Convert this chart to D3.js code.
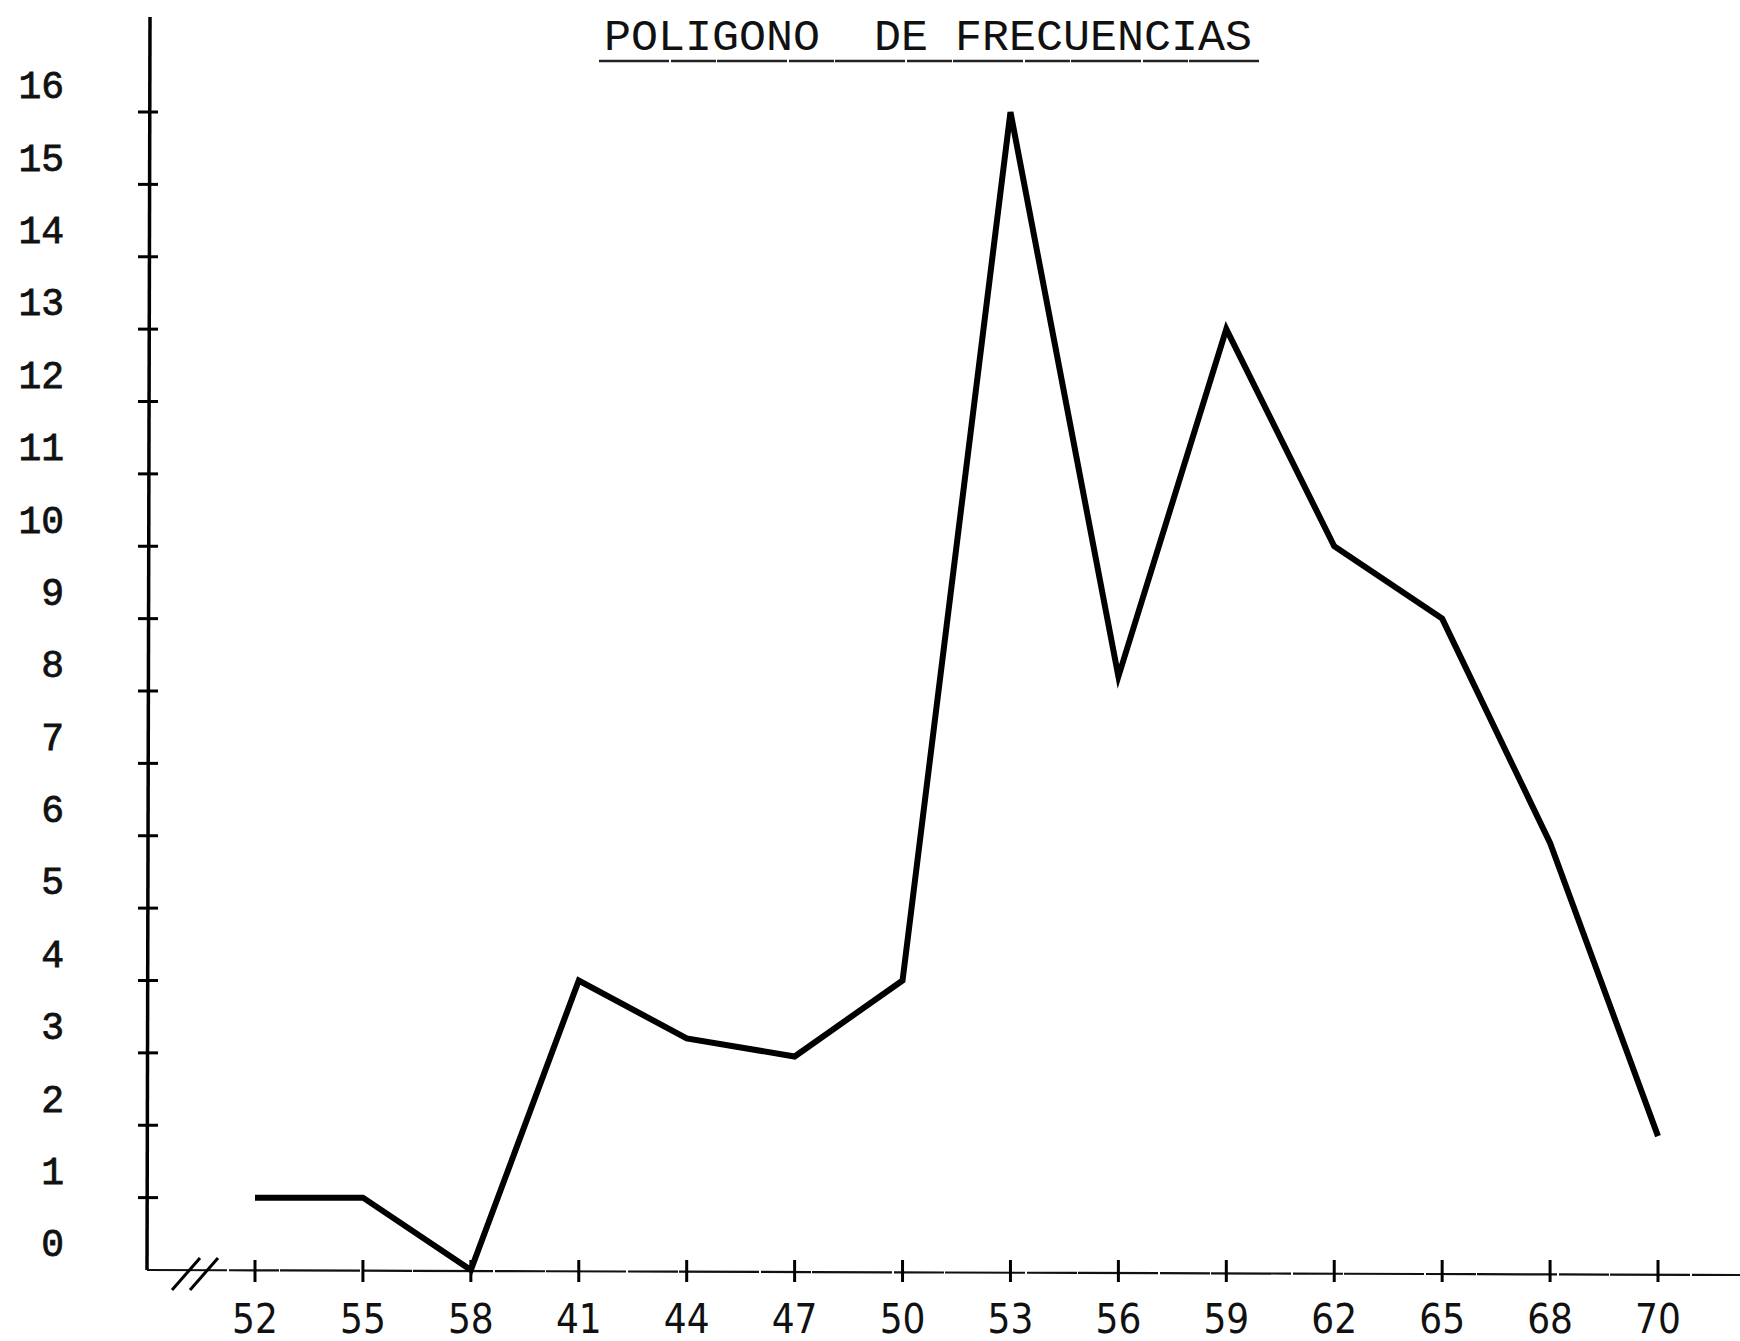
<!DOCTYPE html>
<html>
<head>
<meta charset="utf-8">
<script src="https://d3js.org/d3.v7.min.js"></script>
<style>
  body { margin: 0; background: #fff; }
  svg { display: block; background: #fff; }
  .mono { font-family: "Liberation Mono", "DejaVu Sans Mono", monospace; fill: #111; }
  .xlab { font-family: "DejaVu Sans", sans-serif; font-stretch: condensed; fill: #111; }
</style>
</head>
<body>
<div id="chart"></div>
<script>
// datos
var categorias = ["52", "55", "58", "41", "44", "47", "50", "53", "56", "59", "62", "65", "68", "70"];
var frecuencias = [1, 1, 0, 4, 3.2, 2.95, 4, 16, 8.2, 13, 10, 9, 5.9, 1.85];
var yTicks = [1, 2, 3, 4, 5, 6, 7, 8, 9, 10, 11, 12, 13, 14, 15, 16];
var yLabels = [0, 1, 2, 3, 4, 5, 6, 7, 8, 9, 10, 11, 12, 13, 14, 15, 16];
var titulo = "POLIGONO  DE FRECUENCIAS";

var width = 1740, height = 1341;
var x0 = 147; // origen del eje vertical

var svg = d3.select("#chart").append("svg")
    .attr("width", width)
    .attr("height", height);

var x = d3.scalePoint()
    .domain(categorias)
    .range([255, 1658]);

var y = d3.scaleLinear()
    .domain([0, 16])
    .range([1270, 112]);

// titulo subrayado
svg.append("text")
    .attr("class", "mono")
    .attr("x", 928)
    .attr("y", 50)
    .attr("text-anchor", "middle")
    .style("white-space", "pre")
    .style("font-size", "45px")
    .text(titulo);
svg.append("line")
    .attr("x1", 599).attr("x2", 1259)
    .attr("y1", 61).attr("y2", 61)
    .attr("stroke", "#222")
    .attr("stroke-width", 2.5)
    .attr("stroke-dasharray", "70 2 45 1");

// eje Y
svg.append("line")
    .attr("x1", x0 + 3).attr("y1", 17)
    .attr("x2", x0).attr("y2", y(0))
    .attr("stroke", "#000")
    .attr("stroke-width", 3.5);

svg.append("g").selectAll("line")
    .data(yTicks)
    .enter().append("line")
    .attr("x1", function (d) { return x0 - 9; })
    .attr("x2", function (d) { return x0 + 11; })
    .attr("y1", function (d) { return y(d); })
    .attr("y2", function (d) { return y(d); })
    .attr("stroke", "#000")
    .attr("stroke-width", 3);

svg.append("g").selectAll("text")
    .data(yLabels)
    .enter().append("text")
    .attr("class", "mono")
    .attr("x", 64)
    .attr("y", function (d) { return y(d) - 27; })
    .attr("dy", "0.35em")
    .attr("text-anchor", "end")
    .style("font-size", "38px")
    .style("stroke", "#111")
    .style("stroke-width", 0.8)
    .text(function (d) { return d; });

// eje X
svg.append("line")
    .attr("x1", x0).attr("y1", y(0))
    .attr("x2", width).attr("y2", y(0) + 5)
    .attr("stroke", "#111")
    .attr("stroke-width", 2.2)
    .attr("stroke-dasharray", "80 2 50 1");

svg.append("g").selectAll("line")
    .data(categorias)
    .enter().append("line")
    .attr("x1", function (d) { return x(d); })
    .attr("x2", function (d) { return x(d); })
    .attr("y1", function (d) { return y(0) - 10; })
    .attr("y2", function (d) { return y(0) + 12; })
    .attr("stroke", "#000")
    .attr("stroke-width", 3);

svg.append("g").selectAll("text")
    .data(categorias)
    .enter().append("text")
    .attr("class", "xlab")
    .attr("x", function (d) { return x(d); })
    .attr("y", 1333)
    .attr("text-anchor", "middle")
    .style("font-size", "40px")
    .text(function (d) { return d; });

// marca de corte del eje
svg.append("g").selectAll("line")
    .data([0, 18])
    .enter().append("line")
    .attr("x1", function (d) { return x0 + 25 + d; })
    .attr("y1", y(0) + 20)
    .attr("x2", function (d) { return x0 + 53 + d; })
    .attr("y2", y(0) - 12)
    .attr("stroke", "#000")
    .attr("stroke-width", 3);

// poligono de frecuencias
var puntos = categorias.map(function (c, i) { return [c, frecuencias[i]]; });
var linea = d3.line()
    .x(function (d) { return x(d[0]); })
    .y(function (d) { return y(d[1]); });

svg.append("path")
    .datum(puntos)
    .attr("d", linea)
    .attr("fill", "none")
    .attr("stroke", "#000")
    .attr("stroke-width", 6)
    .attr("stroke-linejoin", "miter")
    .attr("stroke-miterlimit", 6);
</script>
</body>
</html>
